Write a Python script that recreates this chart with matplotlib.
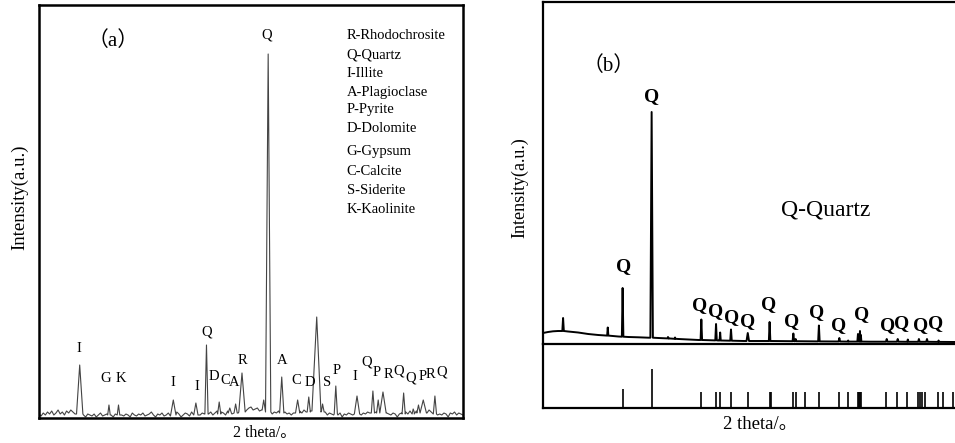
import numpy as np
import matplotlib.pyplot as plt

plt.rcParams['font.family'] = ['Liberation Serif', 'Noto Sans CJK SC']

# ---- panel (a): bulk sample, 2theta 5-45 ----
# baseline noise read every 0.2 deg from 5.0 to 45.0
a_noise = [
    4, 2, 5, 3, 6, 4, 7, 3, 5, 8, 4, 6, 3, 7, 5, 8, 6, 4, 7, 9,
    5, 3, 1, 4, 3, 2, 4, 1, 3, 5, 2, 3, 4, 2, 3, 1, 4, 3, 2, 3,
    2, 4, 3, 1, 5, 3, 2, 4, 3, 5, 2, 3, 4, 6, 3, 1, 4, 3, 5, 2,
    3, 5, 2, 4, 3, 6, 4, 1, 3, 5, 4, 2, 6, 3, 5, 4, 3, 5, 4, 6,
    4, 6, 3, 5, 7, 4, 6, 5, 3, 7, 5, 4, 6, 8, 5, 7, 4, 6, 8, 10,
    11, 8, 9, 10, 7, 8, 6, 9, 5, 5, 4, 6, 5, 7, 4, 5, 6, 4, 5, 3,
    5, 4, 6, 7, 5, 8, 6, 9, 7, 10, 8, 6, 5, 7, 4, 6, 3, 5, 4, 3,
    4, 3, 5, 1, 4, 3, 5, 4, 3, 5, 6, 4, 3, 5, 4, 6, 5, 4, 7, 6,
    8, 6, 9, 7, 5, 4, 3, 5, 4, 1, 4, 5, 3, 6, 4, 7, 5, 6, 7, 8,
    6, 9, 7, 5, 8, 6, 4, 5, 3, 4, 3, 5, 4, 1, 5, 4, 6, 3, 5, 4,
    3,
]
a_peak_pos = [8.84, 11.6, 12.5, 17.67, 19.8, 20.8, 22.0, 23.0, 23.55, 24.15,
              26.2, 26.62, 27.9, 29.4, 30.45, 31.2, 31.75, 33.0, 35.0, 36.5,
              37.0, 37.45, 39.4, 40.3, 40.8, 41.25, 42.35]
a_peak_top = [53, 13, 13, 18, 15, 73, 16, 10, 14, 45,
              18, 364, 41, 18, 21, 101, 14, 32, 22, 27,
              18, 26, 25, 9, 13, 18, 22]
a_peak_foot = [4, 3, 3, 3, 3, 4, 4, 5, 5, 6,
               8, 6, 5, 5, 6, 7, 6, 4, 4, 5,
               5, 5, 4, 4, 5, 5, 4]
a_peak_hw = [0.3, 0.12, 0.12, 0.25, 0.2, 0.15, 0.15, 0.15, 0.15, 0.3,
             0.15, 0.25, 0.2, 0.2, 0.15, 0.45, 0.15, 0.15, 0.25, 0.15,
             0.15, 0.3, 0.15, 0.1, 0.15, 0.3, 0.15]

a_labels = ['I', 'G', 'K', 'I', 'I', 'Q', 'D', 'C', 'A', 'R', 'Q', 'A', 'C',
            'D', 'S', 'P', 'I', 'Q', 'P', 'R', 'Q', 'Q', 'P', 'R', 'Q']
a_label_x = [8.77, 11.32, 12.74, 17.64, 19.9, 20.85, 21.5, 22.55, 23.4, 24.15,
             26.5, 27.92, 29.25, 30.57, 32.17, 33.11, 34.8, 35.94, 36.9, 38.0,
             38.92, 40.1, 41.15, 41.95, 43.0]
a_label_y = [70, 40, 40, 36, 32, 86, 41, 38, 36, 57,
             383, 58, 38, 36, 36, 47, 42, 56, 46, 44,
             47, 40, 41, 43, 46]

a_legend = ['R-Rhodochrosite', 'Q-Quartz', 'I-Illite', 'A-Plagioclase',
            'P-Pyrite', 'D-Dolomite', 'G-Gypsum', 'C-Calcite', 'S-Siderite',
            'K-Kaolinite']

# ---- panel (b): quartz separate, 2theta 5-87 ----
b_base_x = [5, 6, 7, 8, 9, 10, 12, 14, 16, 18, 20, 22, 24, 26, 28, 30, 32,
            34, 36, 40, 45, 50, 60, 70, 80, 87.1]
b_base_y = [11, 12, 12.7, 13, 13, 12.5, 11.5, 10, 9, 8.3, 7.5, 7, 6.7, 6.3,
            6, 5.5, 5, 4.5, 4, 3.5, 3, 3, 2.5, 2.3, 2.2, 2]
b_peak_pos = [9.0, 17.9, 20.86, 26.64, 29.9, 31.3, 36.54, 39.47, 40.29, 42.45,
              45.79, 50.14, 54.87, 55.33, 59.96, 64.03, 65.79, 67.74, 68.14,
              68.32, 73.47, 75.66, 77.67, 79.88, 81.49, 83.8]
b_peak_top = [26, 16.5, 56, 232, 7, 6.5, 24.5, 20, 11.5, 14.5,
              11, 22, 10.5, 5, 18.5, 6, 3.5, 10, 13,
              9, 5, 5, 4.5, 5, 5, 3.5]
b_peak_foot = [13, 8.4, 7.3, 6.3, 5.6, 5.2, 4, 3.6, 3.5, 3.3,
               3, 3, 2.8, 2.8, 2.6, 2.5, 2.4, 2.4, 2.4,
               2.4, 2.3, 2.3, 2.2, 2.2, 2.2, 2.1]
b_peak_hw = [0.15, 0.12, 0.15, 0.25, 0.1, 0.1, 0.15, 0.15, 0.12, 0.15,
             0.25, 0.15, 0.15, 0.1, 0.15, 0.15, 0.1, 0.12, 0.12,
             0.1, 0.15, 0.15, 0.12, 0.15, 0.15, 0.12]

b_label_x = [26.71, 21.13, 36.27, 39.46, 42.65, 45.84, 50.0, 54.6, 59.58,
             63.96, 68.55, 73.7, 76.5, 80.2, 83.2]
b_label_y = [247, 77, 38, 32, 26, 22, 39, 22, 31, 18, 29, 18, 20, 18, 20]

# standard quartz reference lines
ref_pos = [20.86, 26.64, 36.54, 39.47, 40.29, 42.45, 45.79, 50.14, 50.5,
           54.87, 55.33, 57.24, 59.96, 63.9, 65.79, 67.7, 67.9, 68.1, 68.33,
           73.35, 75.5, 77.6, 79.7, 80.0, 80.4, 81.1, 83.6, 84.6, 86.7]
ref_h = [19, 39, 16, 16, 16, 16, 16, 16, 16,
         16, 16, 16, 16, 16, 16, 16, 16, 16, 16,
         16, 16, 16, 16, 16, 16, 16, 16, 16, 16]


def build(bx, by, pos, top, foot, hw):
    bx = np.asarray(bx, float)
    by = np.asarray(by, float)
    keep = np.ones(len(bx), bool)
    for p, w in zip(pos, hw):
        keep &= np.abs(bx - p) > w
    xs = list(bx[keep])
    ys = list(by[keep])
    for p, t, f, w in zip(pos, top, foot, hw):
        xs += [p - w, p, p + w]
        ys += [f, t, f]
    order = np.argsort(xs, kind='stable')
    return np.array(xs)[order], np.array(ys)[order]


fig = plt.figure(figsize=(9.55, 4.43), dpi=100)

# panel (a)
ax = fig.add_axes([39 / 955, 25 / 443, 424 / 955, 413 / 443])
a_x = 5.0 + 0.2 * np.arange(len(a_noise))
xs, ys = build(a_x, a_noise, a_peak_pos, a_peak_top, a_peak_foot, a_peak_hw)
ax.plot(xs, ys, color='#444444', lw=0.8)
ax.set_xlim(5, 45)
ax.set_ylim(0, 413)
ax.set_xticks([])
ax.set_yticks([])
for s in ax.spines.values():
    s.set_linewidth(1.8)
for t, x, y in zip(a_labels, a_label_x, a_label_y):
    ax.text(x, y, t, ha='center', va='center', fontsize=10.5)
ax.text(0.175, 0.912, '（a）', transform=ax.transAxes, ha='center',
        va='center', fontsize=15)
leg_y = [0.925, 0.879, 0.835, 0.789, 0.746, 0.702, 0.646, 0.598, 0.550, 0.506]
for t, y in zip(a_legend, leg_y):
    ax.text(0.726, y, t, transform=ax.transAxes, ha='left', va='center',
            fontsize=10.5)
fig.text(20 / 955, 1 - 197 / 443, 'Intensity(a.u.)', rotation=90,
         ha='center', va='center', fontsize=13.5)
fig.text(265 / 955, 1 - 433 / 443, '2 theta/。', ha='center', va='center',
         fontsize=11.5)

# panel (b), upper pattern
bx = fig.add_axes([543 / 955, 99 / 443, 412 / 955, 342 / 443])
xs, ys = build(b_base_x, b_base_y, b_peak_pos, b_peak_top, b_peak_foot,
               b_peak_hw)
bx.plot(xs, ys, color='black', lw=1.4)
bx.set_xlim(5, 87.07)
bx.set_ylim(0, 342)
bx.set_xticks([])
bx.set_yticks([])
bx.spines['right'].set_visible(False)
for s in bx.spines.values():
    s.set_linewidth(1.6)
for x, y in zip(b_label_x, b_label_y):
    bx.text(x, y, 'Q', ha='center', va='center', fontsize=14,
            fontweight='bold')
bx.text(0.158, 0.812, '（b）', transform=bx.transAxes, ha='center',
        va='center', fontsize=15)
bx.text(0.687, 0.392, 'Q-Quartz', transform=bx.transAxes, ha='center',
        va='center', fontsize=17)

# panel (b), reference lines
rx = fig.add_axes([543 / 955, 35 / 443, 412 / 955, 64 / 443])
rx.patch.set_visible(False)
rx.vlines(ref_pos, 0, ref_h, color='black', lw=1.2)
rx.set_xlim(5, 87.07)
rx.set_ylim(0, 64)
rx.set_xticks([])
rx.set_yticks([])
rx.spines['right'].set_visible(False)
rx.spines['top'].set_visible(False)
for s in rx.spines.values():
    s.set_linewidth(1.6)
fig.text(520 / 955, 1 - 188 / 443, 'Intensity(a.u.)', rotation=90,
         ha='center', va='center', fontsize=13)
fig.text(760 / 955, 1 - 425 / 443, '2 theta/。', ha='center', va='center',
         fontsize=13.5)

fig.savefig('out.png', dpi=100)
